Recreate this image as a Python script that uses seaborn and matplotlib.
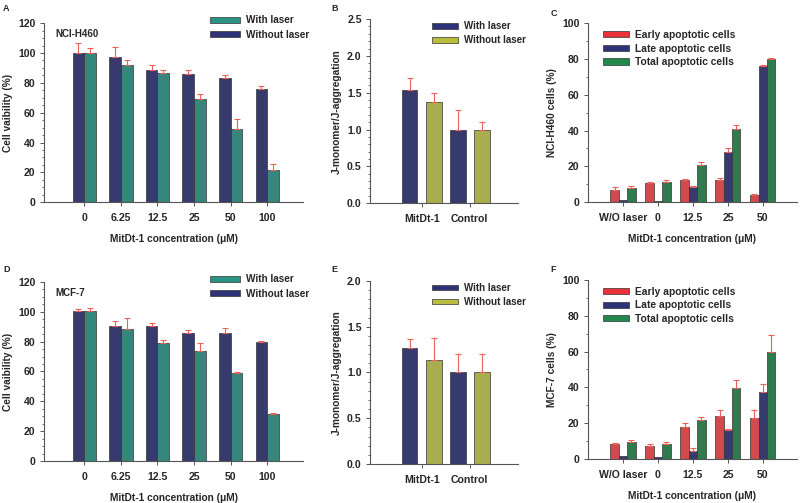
import numpy as np
import pandas as pd
import seaborn as sns
import matplotlib.pyplot as plt
from matplotlib.patches import Patch
from matplotlib.ticker import MultipleLocator

# concentrations / groups
conc = ['0', '6.25', '12.5', '25', '50', '100']
jc_groups = ['MitDt-1', 'Control']
apo_groups = ['W/O laser', '0', '12.5', '25', '50']

# A: NCI-H460 viability
a_without = [100, 97.5, 88.5, 86, 83, 76]
a_without_err = [7, 6.5, 3.5, 2.5, 2.5, 2]
a_with = [100, 92, 86.5, 69.2, 49, 21.3]
a_with_err = [3.2, 3.2, 1.8, 3, 7, 4]

# D: MCF-7 viability
d_without = [100.2, 90.3, 90.8, 85.7, 85.6, 79.8]
d_without_err = [1.8, 3.8, 1.6, 1.8, 3.5, 0.4]
d_with = [100.2, 88.2, 79, 73.6, 59.2, 31.7]
d_with_err = [2.3, 7.6, 1.8, 5.2, 0.3, 0.5]

# B / E: JC-1 ratio
b_with = [1.54, 1.0]
b_with_err = [0.16, 0.26]
b_without = [1.38, 1.0]
b_without_err = [0.11, 0.10]
e_with = [1.27, 1.0]
e_with_err = [0.10, 0.20]
e_without = [1.14, 1.0]
e_without_err = [0.24, 0.20]

# C / F: apoptosis
c_early = [7, 10.5, 12.5, 12.5, 4.1]
c_early_err = [1.6, 1.0, 0.5, 1.0, 0.6]
c_late = [1, 0.6, 8.4, 28.3, 76.2]
c_late_err = [0, 0, 0.9, 2, 0.4]
c_total = [7.9, 11.5, 20.5, 41, 80]
c_total_err = [1.4, 0.8, 1.9, 2.3, 0.7]
f_early = [8.4, 7.4, 17.8, 24.2, 23]
f_early_err = [0.3, 1.0, 2.2, 3.3, 4.5]
f_late = [1.5, 1.1, 4.5, 16, 37.2]
f_late_err = [0, 0, 1.6, 0.9, 4.8]
f_total = [9.5, 8.4, 21.9, 39.8, 60]
f_total_err = [0.9, 1.1, 1.3, 4.4, 9.5]

NAVY = '#2e3276'
TEAL = '#2a9384'
OLIVE = '#b9bd3d'
RED = '#ea3339'
GREEN = '#21894c'
ERR = '#e8625c'

sns.set_style('ticks')
plt.rcParams['font.family'] = ['Liberation Sans', 'DejaVu Sans']
plt.rcParams['font.weight'] = 'bold'
plt.rcParams['axes.labelweight'] = 'bold'
TICK_FS = 7.6
LABEL_FS = 7.3


def grouped(ax, cats, series, errs, names, colors, width, gap=0):
    df = pd.DataFrame({
        'group': np.repeat([cats], len(names), axis=0).ravel(),
        'value': np.concatenate(series),
        'err': np.concatenate(errs),
        'series': np.repeat(names, len(cats)),
    })
    sns.barplot(data=df, x='group', y='value', hue='series', hue_order=names,
                order=cats, palette=dict(zip(names, colors)), width=width,
                gap=gap, errorbar=None, edgecolor='#333333', linewidth=0.5,
                legend=False, ax=ax)
    for cont, name in zip(ax.containers, names):
        sub = df[df['series'] == name]
        for bar, e in zip(cont, sub['err']):
            if e <= 0:
                continue
            xc = bar.get_x() + bar.get_width() / 2
            ax.errorbar(xc, bar.get_height(), yerr=[[0], [e]], fmt='none',
                        ecolor=ERR, elinewidth=0.8, capsize=2.2, capthick=0.8)


def style(ax, ymax, major, minor, xlabel, ylabel, xlim, fmt=None):
    ax.set_xlim(*xlim)
    ax.yaxis.set_major_locator(MultipleLocator(major))
    ax.yaxis.set_minor_locator(MultipleLocator(minor))
    ax.set_ylim(0, ymax)
    if fmt:
        ticks = np.arange(0, ymax + major / 2, major)
        ax.set_yticks(ticks)
        ax.set_yticklabels([fmt.format(t) for t in ticks])
    ax.set_ylim(0, ymax)
    sns.despine(ax=ax)
    for s in ['left', 'bottom']:
        ax.spines[s].set_color('#555555')
        ax.spines[s].set_linewidth(0.8)
    ax.tick_params(axis='both', which='major', labelsize=TICK_FS, length=3,
                   width=0.7, color='#555555', pad=3)
    ax.tick_params(axis='x', which='major', pad=5)
    ax.tick_params(axis='y', which='minor', length=1.6, width=0.6,
                   color='#555555')
    ax.set_xlabel(xlabel, fontsize=LABEL_FS, fontweight='bold', labelpad=8)
    ax.set_ylabel(ylabel, fontsize=LABEL_FS, fontweight='bold', labelpad=4)
    for t in ax.get_xticklabels() + ax.get_yticklabels():
        t.set_fontweight('bold')


def legend(ax, names, colors, anchor, size, spacing, hlen=3.0):
    handles = [Patch(facecolor=c, edgecolor='#333333', linewidth=0.5, label=n)
               for n, c in zip(names, colors)]
    ax.legend(handles=handles, loc='upper left', bbox_to_anchor=anchor,
              frameon=False, handlelength=hlen, handleheight=0.55,
              labelspacing=spacing, handletextpad=0.6, borderaxespad=0,
              prop={'weight': 'bold', 'size': size})


fig = plt.figure(figsize=(8, 5.03), dpi=100)
axA = fig.add_axes([0.055, 0.598, 0.324, 0.356])
axB = fig.add_axes([0.4625, 0.596, 0.185, 0.366])
axC = fig.add_axes([0.735, 0.598, 0.261, 0.356])
axD = fig.add_axes([0.055, 0.0835, 0.324, 0.356])
axE = fig.add_axes([0.4625, 0.0775, 0.185, 0.364])
axF = fig.add_axes([0.735, 0.0875, 0.261, 0.356])

xl = 'MitDt-1 concentration (μM)'

# A and D
for ax, wo, woe, wi, wie, cell in [
        (axA, a_without, a_without_err, a_with, a_with_err, 'NCI-H460'),
        (axD, d_without, d_without_err, d_with, d_with_err, 'MCF-7')]:
    grouped(ax, conc, [wo, wi], [woe, wie], ['Without laser', 'With laser'],
            [NAVY, TEAL], width=0.64)
    style(ax, 120, 20, 5, xl, 'Cell vaibility (%)', (-1.1, 5.98))
    legend(ax, ['With laser', 'Without laser'], [TEAL, NAVY],
           (0.625, 1.065), 7.2, 0.45)
    ax.text(0.045, 0.965, cell, transform=ax.transAxes, fontsize=7.0,
            fontweight='bold', va='top', ha='left')

# B and E
for ax, wi, wie, wo, woe, ymax in [
        (axB, b_with, b_with_err, b_without, b_without_err, 2.5),
        (axE, e_with, e_with_err, e_without, e_without_err, 2.0)]:
    grouped(ax, jc_groups, [wi, wo], [wie, woe], ['With laser', 'Without laser'],
            [NAVY, OLIVE], width=1.0, gap=0.34)
    style(ax, ymax, 0.5, 0.1, '', 'J-monomer/J-aggregation', (-1.07, 2.0),
          fmt='{:.1f}')
    ax.set_xlabel('')
    legend(ax, ['With laser', 'Without laser'], [NAVY, OLIVE],
           (0.39, 1.01), 7.0, 0.4, hlen=2.7)

# C and F
for ax, ser, err, lab in [
        (axC, [c_early, c_late, c_total], [c_early_err, c_late_err, c_total_err],
         'NCI-H460 cells (%)'),
        (axF, [f_early, f_late, f_total], [f_early_err, f_late_err, f_total_err],
         'MCF-7 cells (%)')]:
    names = ['Early apoptotic cells', 'Late apoptotic cells',
             'Total apoptotic cells']
    grouped(ax, apo_groups, ser, err, names, [RED, NAVY, GREEN], width=0.72)
    style(ax, 100, 20, 10, xl, lab, (-1.0, 4.97))
    legend(ax, names, [RED, NAVY, GREEN], (0.05, 0.985), 7.4, 0.35, hlen=2.6)

for letter, x, y in [('A', 0.004, 0.992), ('B', 0.414, 0.992),
                     ('C', 0.688, 0.982), ('D', 0.004, 0.474),
                     ('E', 0.414, 0.474), ('F', 0.688, 0.474)]:
    fig.text(x, y, letter, fontsize=6.5, fontweight='bold', va='top')

fig.savefig('out.png', dpi=100)
